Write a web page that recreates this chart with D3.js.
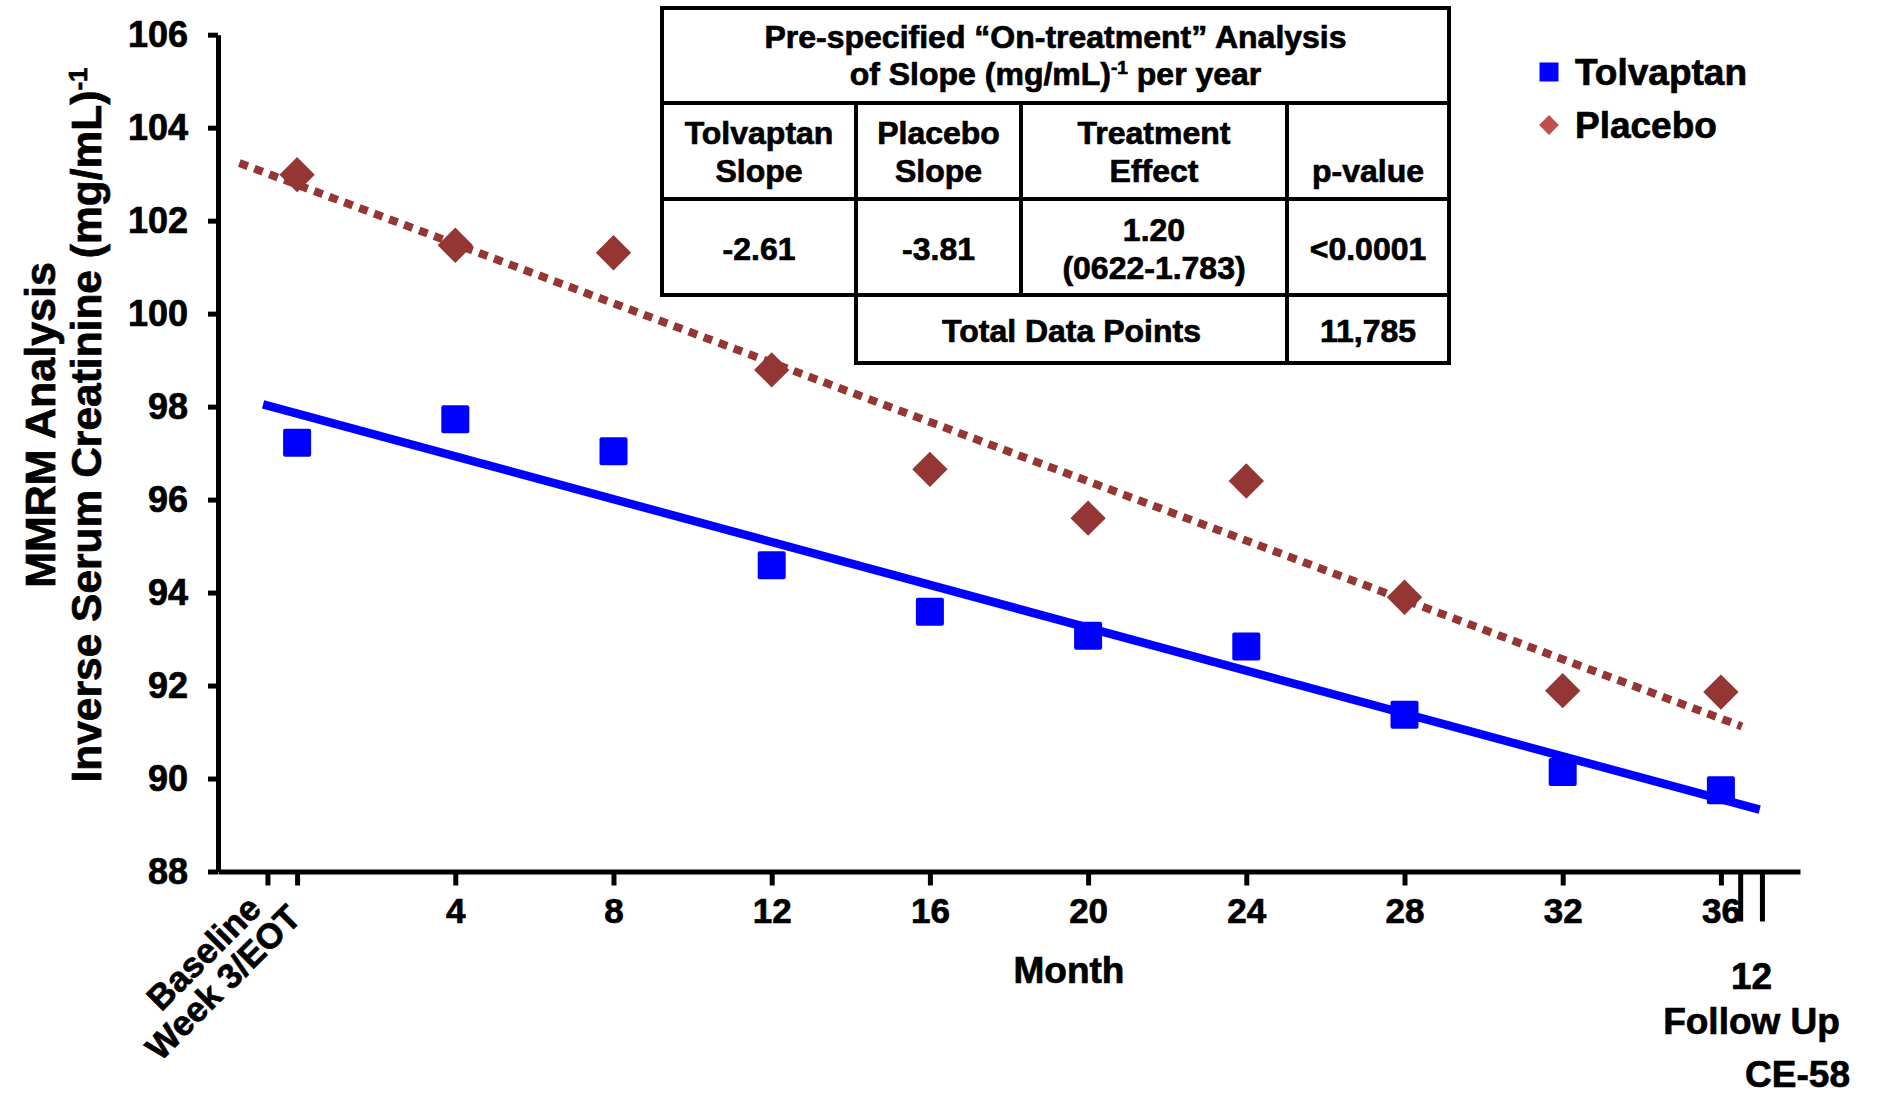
<!DOCTYPE html>
<html>
<head>
<meta charset="utf-8">
<script src="https://cdn.jsdelivr.net/npm/d3@7"></script>
<style>
  html, body { margin: 0; padding: 0; background: #fff; }
  svg { display: block; font-family: "Liberation Sans", Arial, Helvetica, sans-serif; font-weight: bold; }
  svg text { stroke: #000; stroke-width: 0.7px; }
</style>
</head>
<body>
<svg id="chart" width="1877" height="1094"></svg>
<script>
// ---- data -------------------------------------------------------------
// Visit months; Week 3 / end of titration is month 0, Baseline sits just before it
const visitMonths = [0, 4, 8, 12, 16, 20, 24, 28, 32, 36];
const tolvaptanValues = [97.22, 97.73, 97.04, 94.59, 93.59, 93.07, 92.84, 91.37, 90.14, 89.75];
const placeboValues   = [102.99, 101.47, 101.31, 98.79, 96.65, 95.60, 96.40, 93.90, 91.89, 91.86];

// Fitted slope lines as [month, value] end points
const tolvaptanTrend = [[-0.86, 98.05], [36.98, 89.33]];
const placeboTrend   = [[-1.46, 103.24], [36.53, 91.12]];

const yTicks = [88, 90, 92, 94, 96, 98, 100, 102, 104, 106];
const xTickMonths = [-0.75, 0, 4, 8, 12, 16, 20, 24, 28, 32, 36];
const xTickLabels = ["", "", "4", "8", "12", "16", "20", "24", "28", "32", "36"];
const slantedTickMonths = [-0.75, 0];
const slantedTickLabels = ["Baseline", "Week 3/EOT"];
const followUpBreakMonths = [36.5, 37.05];
const followUpLabels = ["12", "Follow Up"];

const seriesNames = ["Tolvaptan", "Placebo"];

const tableTitle = ["Pre-specified \u201cOn-treatment\u201d Analysis", "of Slope (mg/mL)", "-1", " per year"];
const tableHeaders = [["Tolvaptan", "Slope"], ["Placebo", "Slope"], ["Treatment", "Effect"], ["", "p-value"]];
const tableValues = [["-2.61"], ["-3.81"], ["1.20", "(0622-1.783)"], ["<0.0001"]];
const totalRow = ["Total Data Points", "11,785"];

const slideCode = "CE-58";

// ---- layout -----------------------------------------------------------
const colors = { tolvaptan: "#0000FF", placebo: "#943634", placeboLegend: "#C0504D", ink: "#000" };
const svg = d3.select("#chart");

const x = d3.scaleLinear().domain([-2, 38]).range([218, 1800]);
const y = d3.scaleLinear().domain([88, 106]).range([871.5, 34.7]);
const axisY = y(88), axisX = x(-2);

// ---- axes -------------------------------------------------------------
const yAxis = svg.append("g")
  .attr("transform", `translate(${axisX},0)`)
  .call(d3.axisLeft(y).tickValues(yTicks).tickFormat(d3.format("d"))
    .tickSize(10).tickSizeOuter(0).tickPadding(20));
yAxis.select(".domain").attr("stroke", colors.ink).attr("stroke-width", 5);
yAxis.selectAll(".tick line").attr("stroke", colors.ink).attr("stroke-width", 5);
yAxis.selectAll(".tick text")
  .attr("fill", colors.ink).attr("font-size", 36).attr("font-family", null).attr("font-weight", "bold");

const xAxis = svg.append("g")
  .attr("transform", `translate(0,${axisY})`)
  .call(d3.axisBottom(x).tickValues(xTickMonths)
    .tickFormat((d, i) => xTickLabels[i])
    .tickSize(14).tickSizeOuter(0).tickPadding(13));
xAxis.select(".domain").attr("stroke", colors.ink).attr("stroke-width", 5);
xAxis.selectAll(".tick line").attr("stroke", colors.ink).attr("stroke-width", 5);
xAxis.selectAll(".tick text")
  .attr("fill", colors.ink).attr("font-size", 35).attr("font-family", null).attr("font-weight", "bold");

// axis break marks before the follow-up visit
svg.append("g").selectAll("line").data(followUpBreakMonths).join("line")
  .attr("x1", d => x(d)).attr("x2", d => x(d))
  .attr("y1", axisY).attr("y2", axisY + 50)
  .attr("stroke", colors.ink).attr("stroke-width", 5);

// slanted labels for Baseline and Week 3/EOT, stacked one line apart
const slantOffsets = [[-13, 30.5], [-3, 39.5]];
svg.append("g").selectAll("text").data(slantedTickMonths).join("text")
  .attr("transform", (d, i) => `translate(${x(d) + slantOffsets[i][0]},${axisY + slantOffsets[i][1]}) rotate(-45)`)
  .attr("text-anchor", "end").attr("dy", "0.35em")
  .attr("font-size", 35).attr("fill", colors.ink)
  .text((d, i) => slantedTickLabels[i]);

// follow-up label
svg.append("g").selectAll("text").data(followUpLabels).join("text")
  .attr("x", x(d3.mean(followUpBreakMonths)))
  .attr("y", (d, i) => 976 + i * 45)
  .attr("dy", "0.35em").attr("text-anchor", "middle")
  .attr("font-size", 37).attr("fill", colors.ink)
  .text(d => d);

// x axis title
svg.append("text").attr("x", 1069).attr("y", 970).attr("dy", "0.35em")
  .attr("text-anchor", "middle").attr("font-size", 37).text("Month");

// y axis title (two lines, rotated)
const yTitle = svg.append("g").attr("transform", "translate(0,425) rotate(-90)");
yTitle.append("text").attr("x", 0).attr("y", 40).attr("dy", "0.35em")
  .attr("text-anchor", "middle").attr("font-size", 43).text("MMRM Analysis");
const yTitle2 = yTitle.append("text").attr("x", 0).attr("y", 86).attr("dy", "0.35em")
  .attr("text-anchor", "middle").attr("font-size", 42.5);
yTitle2.append("tspan").text("Inverse Serum Creatinine (mg/mL)");
yTitle2.append("tspan").attr("font-size", 26).attr("dy", "-0.55em").text("-1");

// slide code
svg.append("text").attr("x", 1850).attr("y", 1074).attr("dy", "0.35em")
  .attr("text-anchor", "end").attr("font-size", 37).text(slideCode);

// ---- series -----------------------------------------------------------
const tolData = visitMonths.map((m, i) => ({ m, v: tolvaptanValues[i] }));
const plaData = visitMonths.map((m, i) => ({ m, v: placeboValues[i] }));

const squareSize = 28;
svg.append("g").selectAll("rect").data(tolData).join("rect")
  .attr("x", d => x(d.m) - squareSize / 2).attr("y", d => y(d.v) - squareSize / 2)
  .attr("width", squareSize).attr("height", squareSize).attr("rx", 2)
  .attr("fill", colors.tolvaptan);

const diamond = d3.symbol().type(d3.symbolSquare).size(25 * 25);
svg.append("g").selectAll("path").data(plaData).join("path")
  .attr("d", diamond)
  .attr("transform", d => `translate(${x(d.m)},${y(d.v)}) rotate(45)`)
  .attr("fill", colors.placebo);

const trendLine = d3.line().x(d => x(d[0])).y(d => y(d[1]));
svg.append("path").datum(tolvaptanTrend).attr("d", trendLine)
  .attr("fill", "none").attr("stroke", colors.tolvaptan).attr("stroke-width", 8.5);
svg.append("path").datum(placeboTrend).attr("d", trendLine)
  .attr("fill", "none").attr("stroke", colors.placebo).attr("stroke-width", 8)
  .attr("stroke-dasharray", "9 7");

// ---- legend -----------------------------------------------------------
const legend = svg.append("g").attr("transform", "translate(1549,72)");
legend.append("rect").attr("x", -9.5).attr("y", -9.5).attr("width", 19).attr("height", 19)
  .attr("fill", colors.tolvaptan);
legend.append("path").attr("d", d3.symbol().type(d3.symbolSquare).size(14 * 14))
  .attr("transform", "translate(0,53) rotate(45)").attr("fill", colors.placeboLegend);
legend.selectAll("text").data(seriesNames).join("text")
  .attr("x", 26).attr("y", (d, i) => i * 53).attr("dy", "0.35em")
  .attr("font-size", 37).text(d => d);

// ---- statistics table -------------------------------------------------
const tbl = svg.append("g").attr("fill", "none").attr("stroke", colors.ink).attr("stroke-width", 4);
const tL = 662, tR = 1449, rowY = [8, 103, 199, 295, 363], colX = [662, 856, 1021, 1287, 1449];
tbl.append("rect").attr("x", tL).attr("y", rowY[0]).attr("width", tR - tL).attr("height", rowY[3] - rowY[0]);
tbl.append("rect").attr("x", colX[1]).attr("y", rowY[3]).attr("width", tR - colX[1]).attr("height", rowY[4] - rowY[3]);
[rowY[1], rowY[2]].forEach(yy => tbl.append("line").attr("x1", tL).attr("x2", tR).attr("y1", yy).attr("y2", yy));
[colX[1], colX[2], colX[3]].forEach(xx => tbl.append("line").attr("x1", xx).attr("x2", xx).attr("y1", rowY[1]).attr("y2", rowY[3]));
tbl.append("line").attr("x1", colX[3]).attr("x2", colX[3]).attr("y1", rowY[3]).attr("y2", rowY[4]);

const tText = svg.append("g").attr("font-size", 32).attr("text-anchor", "middle").attr("fill", colors.ink);
const tMid = (tL + tR) / 2;
tText.append("text").attr("x", tMid).attr("y", 37).attr("dy", "0.35em").text(tableTitle[0]);
const t2 = tText.append("text").attr("x", tMid).attr("y", 74).attr("dy", "0.35em");
t2.append("tspan").text(tableTitle[1]);
t2.append("tspan").attr("font-size", 19).attr("dy", "-0.6em").text(tableTitle[2]);
t2.append("tspan").attr("dy", "0.35em").text(tableTitle[3]);

const colMid = i => (colX[i] + colX[i + 1]) / 2;
tableHeaders.forEach((lines, i) => {
  lines.forEach((s, j) => {
    if (s) tText.append("text").attr("x", colMid(i)).attr("y", 133 + j * 38).attr("dy", "0.35em").text(s);
  });
});
tableValues.forEach((lines, i) => {
  const top = lines.length === 1 ? 249 : 230;
  lines.forEach((s, j) => {
    tText.append("text").attr("x", colMid(i)).attr("y", top + j * 38).attr("dy", "0.35em").text(s);
  });
});
tText.append("text").attr("x", (colX[1] + colX[3]) / 2).attr("y", 331).attr("dy", "0.35em").text(totalRow[0]);
tText.append("text").attr("x", colMid(3)).attr("y", 331).attr("dy", "0.35em").text(totalRow[1]);
</script>
</body>
</html>
